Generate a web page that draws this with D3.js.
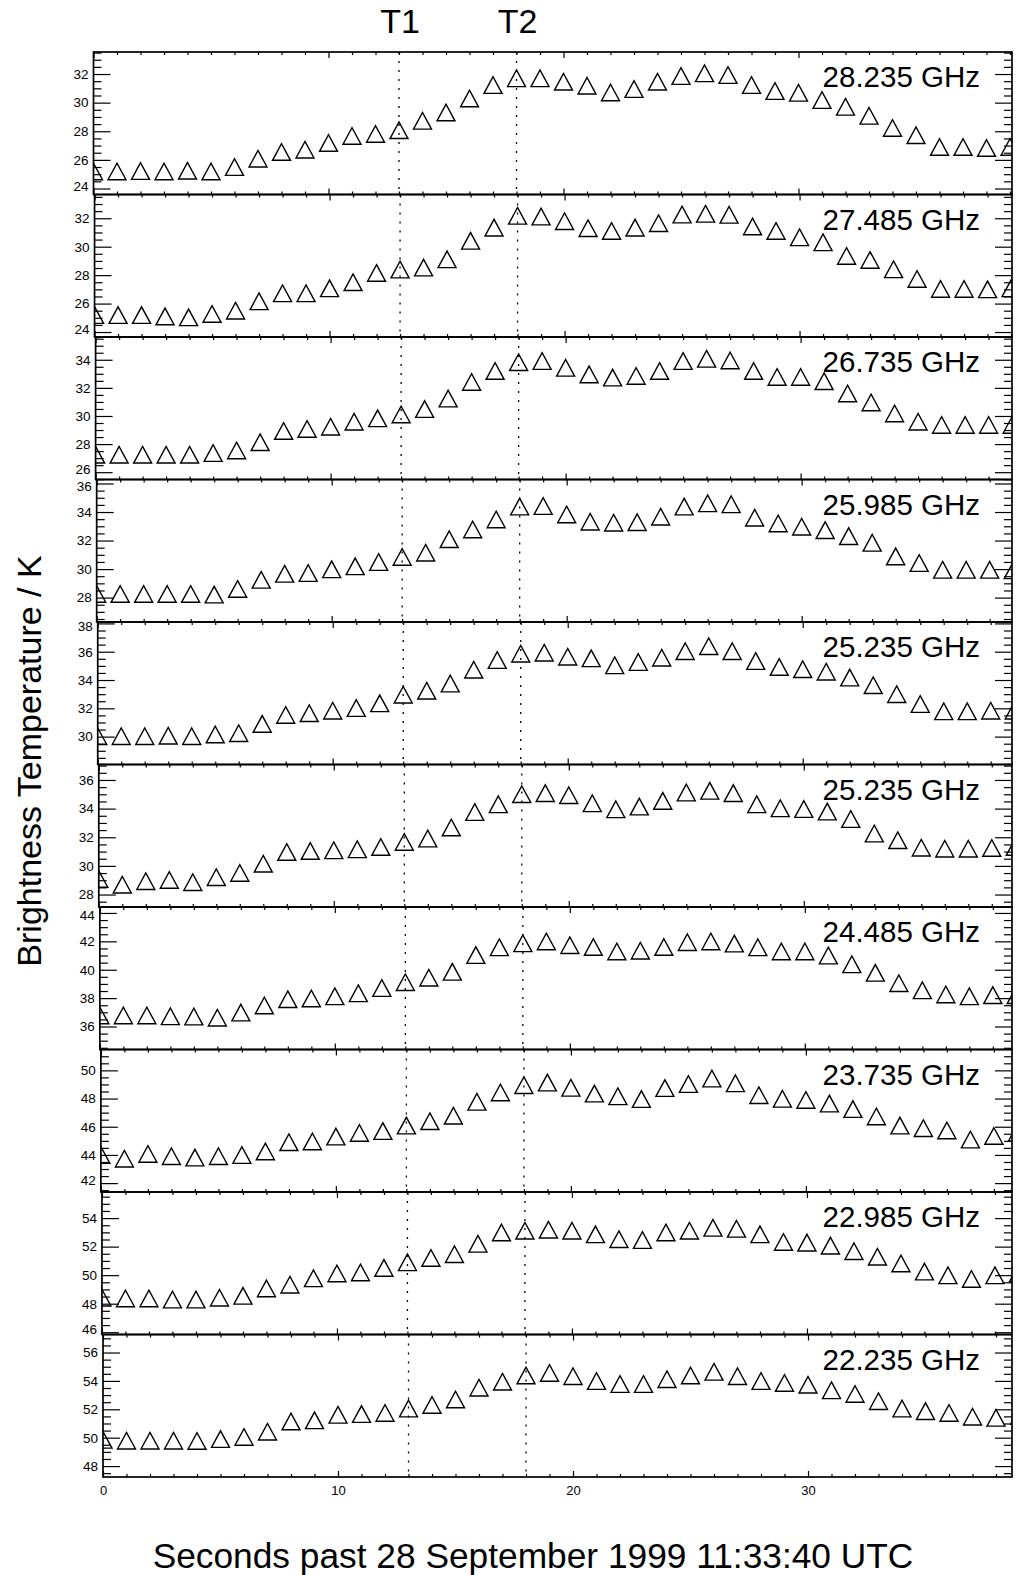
<!DOCTYPE html>
<html>
<head>
<meta charset="utf-8">
<script src="https://cdn.jsdelivr.net/npm/d3@7"></script>
<style>
  html, body { margin: 0; padding: 0; background: #fff; }
  svg { display: block; }
  text { font-family: "Liberation Sans", Arial, Helvetica, sans-serif; fill: #000; }
</style>
</head>
<body>
<svg id="chart" width="1018" height="1575"></svg>
<script>
// Sample times (seconds past 11:33:40 UTC)
const seconds = [0,1,2,3,4,5,6,7,8,9,10,11,12,13,14,15,16,17,18,19,
                 20,21,22,23,24,25,26,27,28,29,30,31,32,33,34,35,36,37,38,39];

// Channel names, top panel first
const channels = ["28.235 GHz","27.485 GHz","26.735 GHz","25.985 GHz","25.235 GHz",
                  "25.235 GHz","24.485 GHz","23.735 GHz","22.985 GHz","22.235 GHz"];

// Brightness temperatures (K) per channel
const tb28235 = [25.19,25.19,25.22,25.19,25.24,25.19,25.50,26.08,26.55,26.71,27.18,27.67,27.81,28.07,28.73,29.31,30.29,31.23,31.70,31.70,
                 31.46,31.18,30.71,30.95,31.46,31.86,32.05,31.93,31.23,30.81,30.69,30.18,29.71,29.08,28.23,27.72,26.90,26.90,26.83,26.90];
const tb27485 = [25.19,25.19,25.19,25.10,25.03,25.27,25.50,26.16,26.72,26.72,27.07,27.50,28.15,28.39,28.53,29.11,30.41,31.34,32.17,32.12,
                 31.79,31.30,31.11,31.34,31.65,32.26,32.31,32.24,31.42,31.11,30.66,30.31,29.35,29.07,28.41,27.73,27.03,27.03,27.00,27.07];
const tb26735 = [27.24,27.24,27.24,27.24,27.24,27.36,27.55,28.13,28.93,29.08,29.24,29.59,29.83,30.11,30.49,31.24,32.42,33.20,33.83,33.91,
                 33.43,32.96,32.73,32.85,33.20,33.91,34.07,33.95,33.20,32.78,32.78,32.47,31.60,30.96,30.18,29.59,29.36,29.36,29.36,29.36];
const tb25985 = [28.26,28.26,28.26,28.26,28.26,28.21,28.61,29.25,29.67,29.72,29.98,30.19,30.49,30.85,31.15,32.09,32.78,33.48,34.38,34.42,
                 33.83,33.32,33.25,33.29,33.67,34.38,34.61,34.54,33.60,33.20,32.97,32.73,32.31,31.84,30.89,30.42,29.95,29.95,29.95,29.91];
const tb25235a = [30.03,30.03,30.03,30.06,30.03,30.15,30.24,30.90,31.53,31.65,31.83,32.02,32.35,32.96,33.24,33.75,34.73,35.41,35.86,35.93,
                  35.65,35.53,35.04,35.27,35.58,36.04,36.39,36.04,35.34,34.92,34.76,34.59,34.17,33.63,33.00,32.30,31.79,31.79,31.83,31.83];
const tb25235b = [29.09,28.69,28.93,29.02,28.86,29.21,29.51,30.15,30.97,31.04,31.09,31.16,31.32,31.67,31.91,32.68,33.76,34.30,35.01,35.08,
                  34.94,34.37,33.95,34.14,34.54,35.12,35.24,35.08,34.30,34.02,33.97,33.79,33.27,32.26,31.79,31.27,31.20,31.20,31.25,31.32];
const tb24485 = [36.78,36.78,36.78,36.72,36.70,36.62,36.98,37.48,37.92,37.98,38.13,38.34,38.71,39.12,39.44,39.85,41.03,41.58,41.86,41.99,
                 41.73,41.60,41.29,41.34,41.60,41.94,41.99,41.84,41.58,41.29,41.29,41.00,40.38,39.78,39.05,38.55,38.26,38.13,38.21,38.21];
const tb23735 = [43.99,43.73,44.07,43.91,43.81,43.91,43.99,44.25,44.90,44.96,45.30,45.56,45.69,46.08,46.39,46.78,47.77,48.43,48.95,49.13,
                 48.76,48.35,48.16,47.96,48.74,49.03,49.42,49.08,48.24,47.98,47.90,47.64,47.25,46.73,46.08,45.90,45.74,45.09,45.35,45.56];
const tb22985 = [48.42,48.37,48.37,48.29,48.29,48.42,48.55,49.07,49.33,49.78,50.12,50.19,50.51,50.90,51.21,51.47,52.20,52.99,53.12,53.19,
                 53.12,52.86,52.52,52.46,52.99,53.12,53.32,53.25,52.86,52.33,52.28,52.07,51.68,51.29,50.82,50.25,49.99,49.73,49.99,50.12];
const tb22235 = [49.85,49.79,49.79,49.79,49.77,49.90,50.05,50.42,51.14,51.22,51.61,51.66,51.74,52.05,52.31,52.69,53.52,53.94,54.38,54.56,
                 54.33,53.99,53.78,53.78,54.12,54.38,54.64,54.33,53.99,53.86,53.73,53.34,53.08,52.57,52.05,51.87,51.74,51.48,51.40,51.53];

const series = [tb28235, tb27485, tb26735, tb25985, tb25235a, tb25235b, tb24485, tb23735, tb22985, tb22235];

// Temperature axis range of each panel (K)
const yRanges = [[23.58,33.54],[23.65,33.67],[25.48,35.62],[26.29,36.28],[28.03,38.10],
                 [27.13,37.08],[34.38,44.42],[41.37,51.48],[45.84,55.83],[47.23,57.27]];

// Event markers
const eventTimes = [13, 18];
const eventNames = ["T1", "T2"];

// Time axis ticks
const xMajorTicks = [0, 10, 20, 30];

// ---------------- layout ----------------
const svg = d3.select("#chart");
const nPanels = series.length;
const top0 = 52, panelH = 142.5;
const plotRight = 1012;
const leftFirst = 93.5, leftLast = 103;   // left frame edge of first / last panel
const pxPerSecond = 23.5;
const fontStack = '"Liberation Sans", Arial, Helvetica, sans-serif';

const leftOf = d3.scaleLinear().domain([0, nPanels - 1]).range([leftFirst, leftLast]);

function styleAxis(g, size) {
  g.select(".domain").remove();
  g.selectAll(".tick line").attr("stroke", "#000").attr("stroke-width", 1.2);
  g.selectAll(".tick text").attr("font-family", fontStack).attr("font-size", size).attr("fill", "#000");
}

const trianglePath = (cx, cy) => {
  const hw = 9, hh = 8.3;
  return `M${cx - hw},${cy + hh}L${cx},${cy - hh}L${cx + hw},${cy + hh}Z`;
};

series.forEach((vals, i) => {
  const top = top0 + i * panelH;
  const bottom = top + panelH;
  const left = leftOf(i);
  const x = d3.scaleLinear().domain([0, (plotRight - left) / pxPerSecond]).range([left, plotRight]);
  const y = d3.scaleLinear().domain(yRanges[i]).range([bottom, top]);
  const panel = svg.append("g").attr("class", "panel");

  const clipId = "clip" + i;
  svg.append("clipPath").attr("id", clipId)
    .append("rect").attr("x", left).attr("y", top).attr("width", plotRight - left).attr("height", panelH);

  // y ticks
  const [y0, y1] = yRanges[i];
  const yMajor = d3.range(Math.ceil(y0 / 2) * 2, y1 + 1e-9, 2);
  const yMinor = d3.range(Math.ceil(y0 / 0.5) * 0.5, y1 + 1e-9, 0.5).filter(v => Math.abs(v / 2 - Math.round(v / 2)) > 1e-6);

  panel.append("g").attr("transform", `translate(${left},0)`)
    .call(d3.axisLeft(y).tickValues(yMajor).tickSize(-17).tickPadding(5).tickFormat(d3.format("d")))
    .call(g => styleAxis(g, 13.5))
    // labels sitting on a panel edge are nudged inward so neighbouring panels' labels stay apart
    .call(g => g.selectAll(".tick text").attr("dy", d => {
      const py = y(d);
      if (bottom - py < 10) return "0.12em";
      if (py - top < 14) return "0.52em";
      return "0.32em";
    }));
  panel.append("g").attr("transform", `translate(${left},0)`)
    .call(d3.axisLeft(y).tickValues(yMinor).tickSize(-8).tickFormat(""))
    .call(g => styleAxis(g, 10));
  panel.append("g").attr("transform", `translate(${plotRight},0)`)
    .call(d3.axisRight(y).tickValues(yMajor).tickSize(-17).tickFormat(""))
    .call(g => styleAxis(g, 10));
  panel.append("g").attr("transform", `translate(${plotRight},0)`)
    .call(d3.axisRight(y).tickValues(yMinor).tickSize(-8).tickFormat(""))
    .call(g => styleAxis(g, 10));

  // x ticks (top and bottom of each panel)
  const xMinor = d3.range(1, x.domain()[1], 1).filter(v => v % 10 !== 0);
  const isLast = i === nPanels - 1;
  panel.append("g").attr("transform", `translate(0,${bottom})`)
    .call(d3.axisBottom(x).tickValues(xMajorTicks).tickSize(-6).tickPadding(9)
      .tickFormat(isLast ? d3.format("d") : ""))
    .call(g => styleAxis(g, 13));
  panel.append("g").attr("transform", `translate(0,${bottom})`)
    .call(d3.axisBottom(x).tickValues(xMinor).tickSize(-3).tickFormat(""))
    .call(g => styleAxis(g, 10));
  panel.append("g").attr("transform", `translate(0,${top})`)
    .call(d3.axisTop(x).tickValues(xMajorTicks).tickSize(-6).tickFormat(""))
    .call(g => styleAxis(g, 10));
  panel.append("g").attr("transform", `translate(0,${top})`)
    .call(d3.axisTop(x).tickValues(xMinor).tickSize(-3).tickFormat(""))
    .call(g => styleAxis(g, 10));

  // event lines
  panel.append("g").selectAll("line").data(eventTimes).join("line")
    .attr("x1", d => x(d)).attr("x2", d => x(d))
    .attr("y1", top).attr("y2", bottom)
    .attr("stroke", "#000").attr("stroke-width", 1.3)
    .attr("stroke-dasharray", "2,7");

  // data triangles
  panel.append("g").attr("clip-path", `url(#${clipId})`)
    .selectAll("path").data(vals).join("path")
    .attr("d", (v, k) => trianglePath(x(seconds[k]), y(v)))
    .attr("fill", "none").attr("stroke", "#000").attr("stroke-width", 1.4)
    .attr("stroke-linejoin", "miter");

  // frame
  panel.append("rect").attr("x", left).attr("y", top)
    .attr("width", plotRight - left).attr("height", panelH)
    .attr("fill", "none").attr("stroke", "#000").attr("stroke-width", 1.7);

  // channel label
  panel.append("text").attr("x", 980).attr("y", top + 35)
    .attr("text-anchor", "end").attr("font-size", 29.5)
    .text(channels[i]);

  // event names above the first panel
  if (i === 0) {
    svg.append("g").selectAll("text").data(eventTimes).join("text")
      .attr("x", d => x(d) + 1).attr("y", 33)
      .attr("text-anchor", "middle").attr("font-size", 34)
      .text((d, k) => eventNames[k]);
  }
});

// axis titles
svg.append("text")
  .attr("transform", "translate(41,761) rotate(-90)")
  .attr("text-anchor", "middle").attr("font-size", 34)
  .text("Brightness Temperature / K");

svg.append("text")
  .attr("x", 533).attr("y", 1568)
  .attr("text-anchor", "middle").attr("font-size", 35.3)
  .text("Seconds past 28 September 1999 11:33:40 UTC");
</script>
</body>
</html>
